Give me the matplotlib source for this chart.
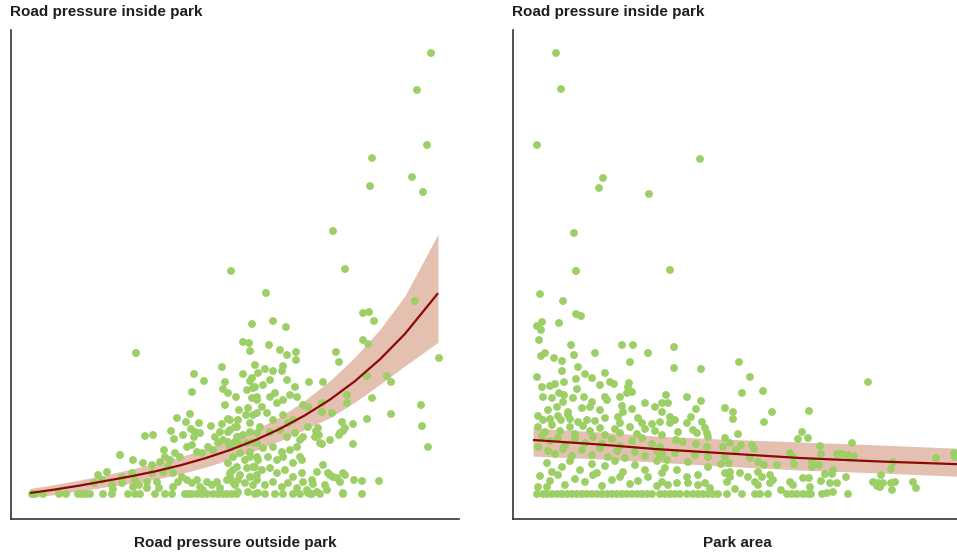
import numpy as np
import matplotlib
matplotlib.use("Agg")
import matplotlib.pyplot as plt

# ---------------- data (arbitrary units) ----------------
# Left panel: road pressure outside park (x) vs road pressure inside park (y)
left_points = [
    (401, 441), (387, 404), (397, 349), (342, 336), (382, 317), (340, 308), (393, 302),
    (303, 263), (201, 223), (315, 225), (236, 201),
    (2, 0), (5, 0), (13, 0), (29, 0), (36, 0), (48, 0), (52, 0), (56, 0), (60, 0), (73, 0),
    (82, 0), (98, 0), (105, 0), (110, 0), (125, 0), (135, 0), (142, 0), (155, 0), (158, 0),
    (162, 0), (167, 0), (172, 0), (177, 0), (183, 0), (188, 0), (193, 0), (197, 0), (202, 0),
    (207, 0),
    (68, 19), (77, 22), (72, 14), (82, 9), (83, 5), (92, 11), (92, 17), (102, 21), (105, 14),
    (103, 7), (109, 9), (117, 6), (117, 12), (122, 21), (127, 12), (129, 6), (133, 22),
    (138, 27), (143, 21), (143, 7), (148, 12), (152, 17), (157, 14), (162, 11), (167, 14),
    (170, 7), (173, 4), (177, 12), (182, 9), (187, 12), (190, 6), (197, 14), (200, 17),
    (203, 24), (205, 9), (208, 14), (64, 11),
    (90, 39), (103, 34), (113, 31), (122, 29), (130, 32), (135, 37), (140, 34), (145, 41),
    (150, 37), (157, 47), (162, 49), (167, 42), (172, 41), (178, 47), (183, 44), (188, 51),
    (193, 54), (200, 47), (205, 52), (208, 57),
    (115, 58), (123, 59), (134, 44), (141, 63), (144, 55), (147, 76), (153, 59), (156, 72),
    (160, 80), (161, 65), (164, 57), (165, 62), (169, 71), (170, 61), (181, 68), (185, 57),
    (190, 62), (192, 70), (198, 62), (200, 74), (207, 67), (208, 74),
    (106, 141), (192, 127), (164, 120), (174, 113), (195, 112), (162, 102), (193, 105),
    (198, 101), (206, 97), (195, 89), (209, 84),
    (222, 170), (213, 152), (219, 151), (220, 143), (213, 120), (220, 113), (225, 107),
    (228, 121), (225, 129), (217, 104), (222, 96), (227, 97), (218, 86), (198, 75), (216, 79),
    (223, 79), (220, 71), (200, 64), (205, 67), (207, 57), (213, 59), (220, 62), (227, 61),
    (198, 52), (208, 51), (217, 51), (223, 52), (210, 41), (220, 42), (227, 37), (215, 34),
    (203, 37), (198, 31), (207, 27), (217, 26), (225, 27), (200, 21), (210, 19), (220, 17),
    (227, 19), (203, 12), (215, 11), (223, 9), (208, 2), (218, 2), (228, 1),
    (243, 173), (256, 167), (239, 149), (250, 144), (257, 139), (266, 142), (266, 134),
    (235, 125), (243, 123), (252, 123), (253, 128), (306, 142), (309, 132), (279, 112),
    (293, 112), (222, 116), (223, 106), (233, 109), (240, 114), (245, 101), (257, 114),
    (265, 107), (267, 97), (227, 94), (232, 87), (240, 97), (247, 91), (253, 94), (260, 99),
    (273, 89), (278, 87), (292, 91), (302, 81), (317, 99), (317, 91), (227, 81), (237, 81),
    (243, 74), (253, 79), (258, 71), (263, 74), (278, 67), (288, 66), (312, 72), (315, 66),
    (230, 67), (240, 62), (250, 64), (257, 57), (265, 61), (270, 54), (273, 57), (285, 57),
    (290, 51), (300, 54), (310, 61), (227, 51), (233, 46), (243, 47), (252, 42), (260, 44),
    (267, 47), (270, 37), (220, 37), (228, 34), (238, 37), (247, 34), (253, 37), (263, 31),
    (272, 34), (293, 29), (287, 22), (298, 21), (303, 17), (310, 12), (313, 21), (223, 27),
    (232, 24), (240, 26), (247, 21), (255, 24), (263, 17), (272, 21), (273, 12), (282, 14),
    (227, 14), (235, 9), (243, 12), (252, 7), (258, 11), (267, 6), (277, 4), (287, 2),
    (297, 4), (313, 1), (225, 0), (235, 0), (245, 0), (253, 0), (263, 0), (270, 0), (280, 0),
    (290, 0),
    (333, 181), (339, 182), (344, 173), (385, 193), (333, 154), (338, 150), (409, 136),
    (292, 82), (337, 118), (357, 118), (361, 112), (342, 96), (391, 89), (361, 80), (337, 75),
    (392, 68), (398, 47), (323, 70), (286, 63), (289, 59), (313, 63), (309, 59), (323, 50),
    (292, 50), (300, 19), (307, 16), (315, 19), (324, 14), (332, 13), (349, 13), (295, 9),
    (283, 10), (313, 0), (332, 0), (278, 1), (282, 0),
]

# Left fitted curve with its confidence band
left_fit_x = [0, 25, 50, 75, 100, 125, 150, 175, 200, 225, 250, 275, 300, 325, 350, 375, 408]
left_fit_y = [1, 4.5, 8.5, 13, 17.5, 22.6, 28.6, 35.7, 44, 53.7, 65.2, 78.7, 94.4, 112.9,
              134.7, 160.2, 200.8]
left_fit_lo = [-3.5, -0.5, 3, 7, 10.5, 14.6, 20.1, 26.7, 34.5, 43.2, 53.2, 64.7, 76.4, 91.9,
               109.7, 128.2, 151.8]
left_fit_hi = [5.5, 9.5, 14, 19, 24.5, 30.6, 37.1, 44.7, 53.5, 64.2, 77.2, 93.7, 113.4, 136.9,
               164.7, 198.2, 259.8]

# Right panel: park area (x) vs road pressure inside park (y)
right_points = [
    (23, 441), (28, 405), (4, 349), (167, 335), (70, 316), (66, 306), (116, 300), (41, 261),
    (43, 223), (137, 224), (7, 200), (30, 193), (43, 180), (48, 178), (9, 172), (4, 168),
    (8, 164), (26, 171), (6, 154),
    (38, 149), (89, 149), (100, 149), (8, 138), (12, 141), (21, 136), (29, 133), (41, 139),
    (62, 141), (97, 132), (115, 141), (45, 127), (4, 117), (29, 123), (31, 112), (43, 115),
    (52, 120), (59, 116), (72, 121), (77, 112), (81, 110), (96, 111), (99, 102), (9, 107),
    (17, 108), (22, 110), (26, 101), (31, 99), (44, 105), (67, 109), (10, 97), (19, 96),
    (40, 96), (51, 97), (59, 92), (72, 97), (74, 94), (87, 97), (95, 107), (94, 101),
    (112, 91), (122, 87), (129, 91), (15, 84), (24, 87), (30, 92), (35, 82), (49, 86),
    (57, 87), (67, 84), (89, 88), (90, 82), (99, 85), (5, 78), (10, 74), (17, 75), (25, 78),
    (28, 74), (35, 79), (37, 75), (45, 72), (54, 74), (62, 73), (72, 76), (85, 77), (87, 71),
    (105, 76), (109, 71), (119, 70), (127, 72),
    (5, 67), (12, 62), (19, 69), (27, 63), (37, 67), (42, 60), (50, 68), (57, 63), (67, 66),
    (72, 59), (82, 65), (87, 61), (97, 67), (104, 60), (112, 65), (122, 63), (129, 59),
    (9, 58), (17, 53), (25, 56), (32, 49), (42, 55), (52, 51), (60, 57), (69, 50), (79, 55),
    (87, 48), (99, 53), (109, 56), (119, 50), (127, 47),
    (5, 47), (15, 43), (22, 40), (30, 45), (39, 38), (49, 44), (59, 39), (67, 46), (75, 37),
    (84, 43), (92, 36), (102, 42), (112, 38), (124, 43),
    (14, 31), (19, 22), (29, 27), (37, 33), (47, 24), (59, 30), (64, 21), (72, 28), (82, 33),
    (90, 22), (102, 29), (112, 24), (124, 33), (129, 21),
    (7, 18), (17, 13), (25, 19), (32, 9), (42, 15), (52, 12), (60, 19), (69, 8), (79, 14),
    (87, 17), (97, 10), (105, 13), (115, 17), (124, 8), (5, 7), (14, 7),
    (4, 0), (10, 0), (14, 0), (19, 0), (24, 0), (29, 0), (34, 0), (39, 0), (44, 0), (49, 0),
    (54, 0), (59, 0), (64, 0), (69, 0), (74, 0), (79, 0), (84, 0), (89, 0), (94, 0), (99, 0),
    (104, 0), (109, 0), (114, 0), (119, 0), (127, 0), (132, 0),
    (141, 147), (141, 126), (168, 125), (206, 132), (217, 117), (209, 101), (230, 103),
    (133, 99), (154, 97), (168, 93), (135, 91), (163, 85), (192, 86), (200, 82), (200, 75),
    (239, 82), (231, 72), (276, 83), (129, 82), (137, 77), (142, 74), (137, 71), (154, 71),
    (158, 77), (169, 72), (160, 64), (164, 61), (172, 66), (174, 61), (175, 57), (145, 62),
    (143, 54), (150, 52), (205, 60), (192, 56), (197, 51), (190, 47), (269, 62), (265, 55),
    (275, 56), (163, 50), (174, 47), (208, 49), (219, 49), (221, 45), (203, 44), (129, 41),
    (127, 37), (142, 41), (162, 39), (175, 37), (192, 37), (217, 36), (225, 32), (257, 41),
    (260, 37), (134, 34), (155, 32), (188, 30), (196, 31), (231, 29), (244, 29), (261, 30),
    (279, 27), (132, 26), (144, 24), (175, 27), (192, 21), (197, 22), (207, 21), (215, 17),
    (225, 22), (229, 17), (237, 19), (129, 12), (135, 9), (144, 11), (154, 17), (155, 11),
    (165, 19), (165, 9), (172, 11), (177, 6), (194, 12), (197, 17), (222, 12), (225, 9),
    (237, 11), (240, 14), (257, 12), (260, 9), (270, 16), (276, 16), (277, 7), (202, 5),
    (248, 4),
    (137, 0), (142, 0), (147, 0), (154, 0), (160, 0), (165, 0), (170, 0), (175, 0), (180, 0),
    (185, 0), (194, 0), (209, 0), (222, 0), (227, 0), (235, 0), (254, 0), (259, 0), (264, 0),
    (270, 0), (275, 0),
    (335, 112), (319, 51), (287, 48), (288, 40), (304, 40), (309, 40), (315, 39), (321, 38),
    (279, 33), (286, 29), (300, 24), (299, 20), (292, 20), (313, 17), (288, 13), (297, 11),
    (304, 11), (300, 2), (294, 1), (289, 0), (278, 0), (315, 0), (348, 19), (340, 12),
    (345, 11), (350, 11), (347, 7), (344, 8), (360, 32), (358, 25), (358, 11), (362, 12),
    (359, 4), (380, 12), (383, 6), (403, 36), (421, 41), (422, 37),
]

right_fit_x = [0, 67, 122, 187, 267, 347, 428]
right_fit_y = [54, 49.5, 45, 41, 36, 32.5, 29.7]
right_fit_lo = [38, 35, 32, 28, 24, 21, 17.6]
right_fit_hi = [66, 62, 58, 55, 52, 49, 45.6]

titles = ["Road pressure inside park", "Road pressure inside park"]
xlabels = ["Road pressure outside park", "Park area"]

# ---------------- styling ----------------
GREEN = "#9ccf66"
BAND = "#e4c0b0"
LINE = "#8b0a05"
SPINE = "#333333"
TEXT = "#1f1f1f"
FONT = ["Liberation Sans", "DejaVu Sans"]

W, H = 957, 555
fig = plt.figure(figsize=(W / 100, H / 100), dpi=100)
fig.patch.set_facecolor("white")

ax_l = fig.add_axes([11 / W, 36 / H, 448 / W, 489 / H])
ax_r = fig.add_axes([513 / W, 36 / H, 448 / W, 489 / H])


def draw(ax, pts, fx, fy, flo, fhi, xlim):
    p = np.array(pts, dtype=float)
    ax.fill_between(fx, flo, fhi, color=BAND, lw=0, zorder=1)
    ax.scatter(p[:, 0], p[:, 1], s=32, color=GREEN, edgecolors="none", zorder=2)
    ax.plot(fx, fy, color=LINE, lw=1.6, zorder=3, solid_capstyle="butt")
    ax.set_xlim(*xlim)
    ax.set_ylim(-25, 464)
    ax.set_xticks([])
    ax.set_yticks([])
    for s in ("top", "right"):
        ax.spines[s].set_visible(False)
    for s in ("left", "bottom"):
        ax.spines[s].set_color(SPINE)
        ax.spines[s].set_linewidth(1.2)
    ax.set_facecolor("none")


draw(ax_l, left_points, left_fit_x, left_fit_y, left_fit_lo, left_fit_hi, (-19, 429))
draw(ax_r, right_points, right_fit_x, right_fit_y, right_fit_lo, right_fit_hi, (-20, 428))

# panel titles (top-left) and x labels (centred below)
kw = dict(fontsize=11, fontweight="bold", color=TEXT, family=FONT, va="center")
fig.text(10 / W, 1 - 12 / H, titles[0], ha="left", **kw)
fig.text(512 / W, 1 - 12 / H, titles[1], ha="left", **kw)
fig.text(235 / W, 1 - 543 / H, xlabels[0], ha="center", **kw)
fig.text(737 / W, 1 - 543 / H, xlabels[1], ha="center", **kw)

fig.savefig("out.png", dpi=100, facecolor="white")
